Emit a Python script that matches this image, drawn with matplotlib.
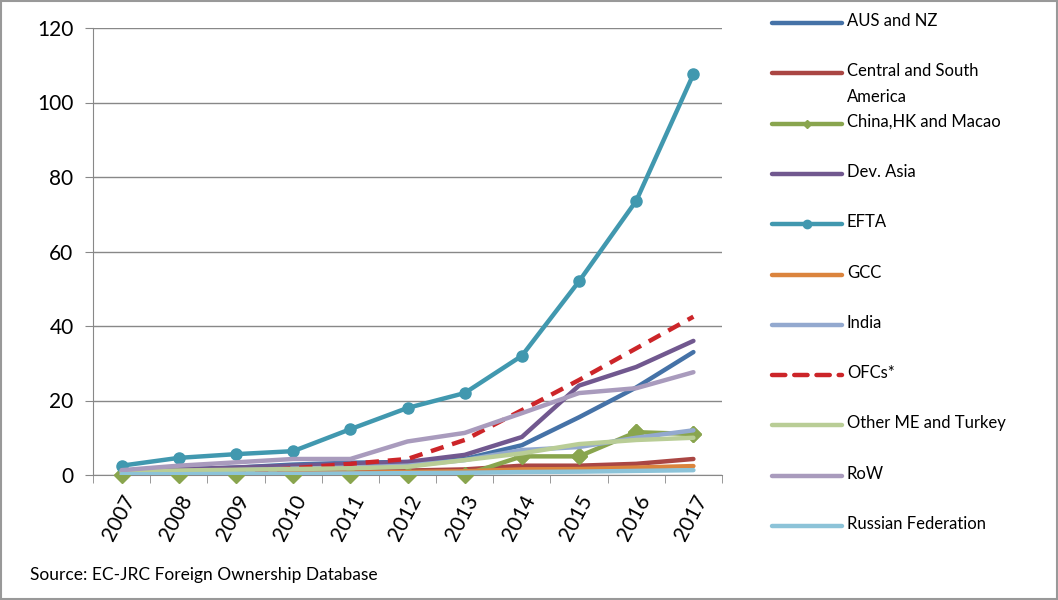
import matplotlib.pyplot as plt
from matplotlib.lines import Line2D
from matplotlib.patches import Rectangle
import numpy as np

plt.rcParams['font.family'] = ['Lato', 'DejaVu Sans']

years = ['2007', '2008', '2009', '2010', '2011', '2012', '2013', '2014', '2015', '2016', '2017']

aus_nz = [1, 1.5, 2, 2.8, 3.3, 3.5, 4.3, 8, 15.5, 23.5, 33]
c_s_america = [0.5, 0.6, 0.7, 0.8, 1, 1.2, 1.5, 2.5, 2.5, 3, 4.3]
china = [0, 0, 0, 0, 0, 0, 0, 5, 5, 11.5, 11]
dev_asia = [1, 1.5, 2, 2.5, 3, 3.5, 5.4, 10.2, 24, 29, 36]
efta = [2.5, 4.6, 5.6, 6.4, 12.3, 18, 22, 32, 52, 73.6, 107.6]
gcc = [0.3, 0.3, 0.4, 0.5, 0.6, 0.8, 1, 1.5, 1.6, 2, 2.4]
india = [0.8, 1, 1.3, 1.7, 2, 2.5, 4, 6.7, 7.5, 10, 12]
ofcs = [0.3, 0.5, 0.8, 1.8, 3, 4.3, 9.4, 17.4, 25.5, 34, 42.5]
other_me = [1, 1.2, 1.4, 1.6, 1.8, 2.2, 4, 5.8, 8.3, 9.4, 10]
row = [1.3, 2.5, 3.4, 4.3, 4.3, 9, 11.3, 16.6, 22, 23.3, 27.6]
russia = [0.2, 0.2, 0.3, 0.3, 0.4, 0.5, 0.6, 0.8, 0.9, 1.1, 1.3]

series = [
    ('AUS and NZ', aus_nz, '#4572A7', '-', None),
    ('Central and South\nAmerica', c_s_america, '#AA4643', '-', None),
    ('China,HK and Macao', china, '#89A54E', '-', 'D'),
    ('Dev. Asia', dev_asia, '#71588F', '-', None),
    ('EFTA', efta, '#4198AF', '-', 'o'),
    ('GCC', gcc, '#DB843D', '-', None),
    ('India', india, '#93A9CF', '-', None),
    ('OFCs*', ofcs, '#CC2529', '--', None),
    ('Other ME and Turkey', other_me, '#B9CD96', '-', None),
    ('RoW', row, '#A99BBD', '-', None),
    ('Russian Federation', russia, '#8CC3D8', '-', None),
]

W, H = 1058, 600
fig = plt.figure(figsize=(W / 100, H / 100), dpi=100)
ax = fig.add_axes([93 / W, 1 - 475 / H, (722 - 93) / W, (475 - 28) / H])

x = np.arange(len(years))
for name, vals, col, ls, mk in series:
    ax.plot(x, vals, color=col, lw=3.2, ls=ls, marker=mk, markersize=8,
            dashes=(3, 2) if ls == '--' else (None, None), solid_capstyle='round')
    if mk == 'D':
        # diamonds at zero poke out below the axis, as in the original
        ax.plot(x, vals, ls='none', marker=mk, markersize=8, color=col,
                clip_on=False, zorder=1.5)

ax.set_ylim(0, 120)
ax.set_xlim(-0.5, len(years) - 0.5)
ax.set_yticks(range(0, 121, 20))
ax.grid(axis='y', color='#888888', lw=1)
ax.set_axisbelow(True)
for s in ['top', 'right']:
    ax.spines[s].set_visible(False)
for s in ['left', 'bottom']:
    ax.spines[s].set_color('#888888')
    ax.spines[s].set_zorder(1)
ax.tick_params(axis='y', labelsize=15, colors='#888888', labelcolor='black', length=6, pad=8)
ax.set_xticks(x)
ax.set_xticklabels(years, rotation=62, ha='right', rotation_mode='anchor', fontsize=15)
ax.tick_params(axis='x', which='major', length=0, pad=12)
ax.set_xticks(np.arange(-0.5, len(years), 1), minor=True)
ax.tick_params(axis='x', which='minor', length=6, colors='#888888')

# legend drawn by hand to mimic Excel layout
for i, (name, vals, col, ls, mk) in enumerate(series):
    ypx = 23 + 50.3 * i
    yf = 1 - ypx / H
    fig.add_artist(Line2D([772 / W, 842 / W], [yf, yf], color=col, lw=3.2, ls=ls,
                          dashes=(3, 2) if ls == '--' else (None, None),
                          solid_capstyle='round', dash_capstyle='round'))
    if mk is not None:
        fig.add_artist(Line2D([807 / W], [yf], color=col, marker=mk,
                              markersize=4 if mk == 'D' else 6))
    fig.text(847 / W, 1 - (ypx - 10) / H, name, fontsize=12, va='top', linespacing=1.75)

fig.text(30 / W, 1 - 575 / H, 'Source: EC-JRC Foreign Ownership Database', fontsize=12.5, va='center')

fig.add_artist(Rectangle((0.001, 0.001), 0.998, 0.998, transform=fig.transFigure,
                         fill=False, edgecolor='#999999', lw=1.5))

fig.savefig('out.png', dpi=100)
